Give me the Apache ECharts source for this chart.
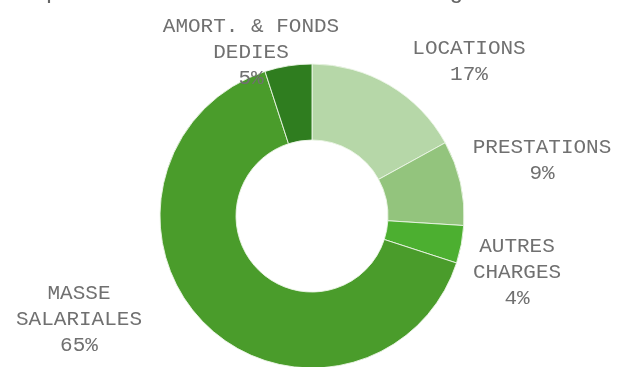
<!DOCTYPE html>
<html>
<head>
<meta charset="utf-8">
<script src="https://cdn.jsdelivr.net/npm/echarts@6/dist/echarts.min.js"></script>
<style>
  html, body { margin: 0; padding: 0; background: #fff; }
  #chart { width: 618px; height: 367px; }
</style>
</head>
<body>
<div id="chart"></div>
<script>
const titleText = 'Dépenses de fonctionnement budgétaires'
const categories = ['LOCATIONS', 'PRESTATIONS', 'AUTRES\nCHARGES', 'MASSE\nSALARIALES', 'AMORT. & FONDS\nDEDIES']
const shares = [17, 9, 4, 65, 5]
const colors = ['#b6d7a8', '#93c47d', '#4caf30', '#4a9c2b', '#2f7d1f']

// label centres (px), Excel-style hand placement
const labelSpots = [[469, 61], [542, 160], [517, 272], [79, 319], [251, 52]]

const font = '"Courier New", "Liberation Mono", monospace'
const chart = echarts.init(document.getElementById('chart'))

chart.setOption({
  animation: false,
  title: {
    text: titleText,
    left: 12,
    top: -25,
    textStyle: { fontFamily: font, fontSize: 24, fontWeight: 'normal', color: '#666' },
  },
  series: [{
    type: 'pie',
    center: [312, 216],
    radius: [76, 152],
    startAngle: 90,
    clockwise: true,
    silent: true,
    itemStyle: { borderColor: 'rgba(235,245,230,0.9)', borderWidth: 1 },
    label: {
      show: true,
      position: 'outside',
      formatter: p => `${p.name}\n${p.value}%`,
      fontFamily: font,
      fontSize: 21,
      lineHeight: 26,
      color: '#707070',
      width: 240,
      overflow: 'none',
    },
    labelLine: { show: false },
    labelLayout: params => {
      const spot = labelSpots[params.dataIndex]
      return { x: spot[0], y: spot[1], align: 'center', verticalAlign: 'middle' }
    },
    data: categories.map((name, i) => ({
      name,
      value: shares[i],
      itemStyle: { color: colors[i] },
    })),
  }],
})
</script>
</body>
</html>
